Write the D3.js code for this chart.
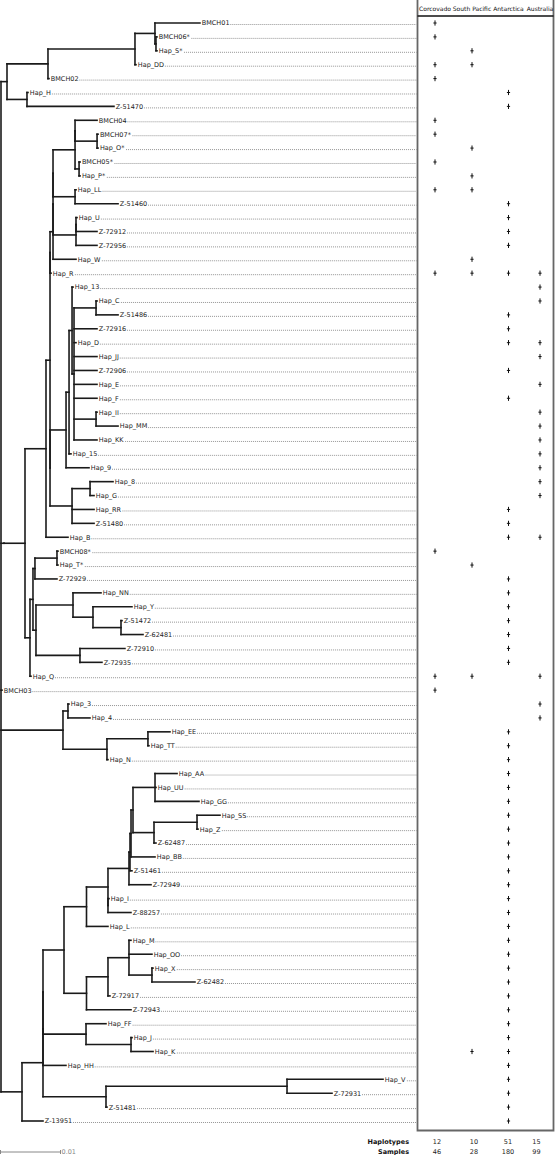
<!DOCTYPE html>
<html><head><meta charset="utf-8">
<script src="https://cdn.jsdelivr.net/npm/d3@7/dist/d3.min.js"></script>
<style>body{margin:0;background:#fff}svg{display:block}</style>
</head><body>
<svg id="chart" width="557" height="1155"></svg>
<script>
// ---- DATA ----
// Haplotype tree (Newick, branch lengths in substitutions/site)
const newick =
"(((((((BMCH01:0.0075,(BMCH06*:0.00017,Hap_S*:0.00017):0.00017):0.00333,Hap_DD:0.00017):0.0145,BMCH02:0.00017):0.00683," +
"(Hap_H:0.00017,Z-51470:0.0145):0.00333):0.001," +
"((((((((((BMCH04:0.00367,(BMCH07*:0.00017,Hap_O*:0.00017):0.00367):0,(BMCH05*:0.00017,Hap_P*:0.00017):0.00067):0.00367," +
"(Hap_LL:0.00017,Z-51460:0.00717):0.00367):0,((Hap_U:0.00017,Z-72912:0.0035):0,Z-72956:0.0035):0.00383):0,Hap_W:0.00383):0.0005,Hap_R:0.00017):0," +
"((((Hap_13:0.00017,((Hap_C:0.00017,Z-51486:0.00367):0.00367,Z-72916:0.00383,Hap_D:0.00033,Hap_JJ:0.00383,Z-72906:0.00383,Hap_E:0.00383,Hap_F:0.00383," +
"(Hap_II:0.00017,Hap_MM:0.00367):0.00367,Hap_KK:0.00383):0.00033):0.0005,Hap_15:0.00033):0.0005,Hap_9:0.00383):0.00267," +
"((Hap_8:0.00383,Hap_G:0.00067):0.003,Hap_RR:0.00367,Z-51480:0.00367):0.00367):0):0.00067,Hap_B:0.00367):0.0035," +
"((((BMCH08*:0.00017,Hap_T*:0.00017):0.00367,Z-72929:0.00367):0.00033," +
"((Hap_NN:0.00467,(Hap_Y:0.0065,(Z-51472:0.00017,Z-62481:0.00367):0.00467):0.00333):0.00617,(Z-72910:0.0075,Z-72935:0.00367):0.00733):0.0005):0.0005," +
"Hap_Q:0.00017):0.00083):0.0035):0.0005," +
"BMCH03:0.00017," +
"((Hap_3:0.00017,Hap_4:0.00367):0.00083,((Hap_EE:0.00367,Hap_TT:0.00017):0.00683,Hap_N:0.00017):0.00733):0.01033," +
"((((((((((((Hap_AA:0.00367,Hap_UU:0.00017,Hap_GG:0.00733):0.00367,((Hap_SS:0.00383,Hap_Z:0.00017):0.00717,Z-62487:0.00033):0.0035):0.00033," +
"Hap_BB:0.004):0.00017,Z-51461:0.00033):0.00017,Z-72949:0.00367):0.0035,(Hap_I:0.00017,Z-88257:0.00383):0):0.00358,Hap_L:0.00358):0.00375," +
"(((Hap_M:0.00033,Hap_OO:0.00383,(Hap_X:0.00017,Z-62482:0.00717):0.00383):0.0035,Z-72917:0.00033):0.00358,Z-72943:0.00742):0.00375):0.0035," +
"(Hap_FF:0.00333,(Hap_J:0.00017,Hap_K:0.00367):0.0075):0.00717):0,Hap_HH:0.00383):0," +
"((Hap_V:0.016,Z-72931:0.0075):0.03017,Z-51481:0.00017):0.0105):0.0035,Z-13951:0.0035):0.0035);";

const regions = ["Corcovado", "South Pacific", "Antarctica", "Australia"];
const footerRows = ["Haplotypes", "Samples"];
const haplotypeCounts = [12, 10, 51, 15];
const sampleCounts = [46, 28, 180, 99];
const scaleBarValue = 0.01;
const scaleBarLabel = "0.01";

// region indices in which each haplotype occurs (0 Corcovado, 1 South Pacific, 2 Antarctica, 3 Australia)
const presence = [
 ["BMCH01",[0]],["BMCH06*",[0]],["Hap_S*",[1]],["Hap_DD",[0,1]],["BMCH02",[0]],["Hap_H",[2]],["Z-51470",[2]],
 ["BMCH04",[0]],["BMCH07*",[0]],["Hap_O*",[1]],["BMCH05*",[0]],["Hap_P*",[1]],["Hap_LL",[0,1]],["Z-51460",[2]],
 ["Hap_U",[2]],["Z-72912",[2]],["Z-72956",[2]],["Hap_W",[1]],["Hap_R",[0,1,2,3]],["Hap_13",[3]],["Hap_C",[3]],
 ["Z-51486",[2]],["Z-72916",[2]],["Hap_D",[2,3]],["Hap_JJ",[3]],["Z-72906",[2]],["Hap_E",[3]],["Hap_F",[2]],
 ["Hap_II",[3]],["Hap_MM",[3]],["Hap_KK",[3]],["Hap_15",[3]],["Hap_9",[3]],["Hap_8",[3]],["Hap_G",[3]],
 ["Hap_RR",[2]],["Z-51480",[2]],["Hap_B",[2,3]],["BMCH08*",[0]],["Hap_T*",[1]],["Z-72929",[2]],["Hap_NN",[2]],
 ["Hap_Y",[2]],["Z-51472",[2]],["Z-62481",[2]],["Z-72910",[2]],["Z-72935",[2]],["Hap_Q",[0,1,3]],["BMCH03",[0]],
 ["Hap_3",[3]],["Hap_4",[3]],["Hap_EE",[2]],["Hap_TT",[2]],["Hap_N",[2]],["Hap_AA",[2]],["Hap_UU",[2]],
 ["Hap_GG",[2]],["Hap_SS",[2]],["Hap_Z",[2]],["Z-62487",[2]],["Hap_BB",[2]],["Z-51461",[2]],["Z-72949",[2]],
 ["Hap_I",[2]],["Z-88257",[2]],["Hap_L",[2]],["Hap_M",[2]],["Hap_OO",[2]],["Hap_X",[2]],["Z-62482",[2]],
 ["Z-72917",[2]],["Z-72943",[2]],["Hap_FF",[2]],["Hap_J",[2]],["Hap_K",[1,2]],["Hap_HH",[2]],["Hap_V",[2]],
 ["Z-72931",[2]],["Z-51481",[2]],["Z-13951",[2]]
];

// ---- PARSE ----
function parseNewick(s) {
  const ancestors = []; let tree = {};
  const tokens = s.split(/\s*(;|\(|\)|,|:)\s*/);
  for (let i = 0; i < tokens.length; i++) {
    const t = tokens[i];
    if (t === "(") { const sub = {}; tree.children = [sub]; ancestors.push(tree); tree = sub; }
    else if (t === ",") { const sub = {}; ancestors[ancestors.length - 1].children.push(sub); tree = sub; }
    else if (t === ")") { tree = ancestors.pop(); }
    else if (t === ":" || t === ";" || t === "") { }
    else {
      const p = tokens[i - 1];
      if (p === ":") tree.length = parseFloat(t); else tree.name = t;
    }
  }
  return tree;
}

const svg = d3.select("#chart");
const font = "DejaVu Sans, Verdana, sans-serif";

const root = d3.hierarchy(parseNewick(newick), d => d.children);
root.eachBefore(d => { d.dist = d.parent ? d.parent.dist + (d.data.length || 0) : 0; });
const leaves = root.leaves();

const x = d3.scaleLinear().domain([0, 0.01]).range([1, 61]);
const y = d3.scaleLinear().domain([0, leaves.length - 1]).range([23, 1121]);
leaves.forEach((d, i) => d.yPos = y(i));
root.eachAfter(d => {
  if (d.children) d.yPos = (d.children[0].yPos + d.children[d.children.length - 1].yPos) / 2;
});

const panelLeft = 417.5, panelRight = 553.5, panelBottom = 1130.5, headerLine = 16;
const col = d3.scaleOrdinal().domain(regions).range([435, 472, 508.5, 540]);
const footCol = d3.scaleOrdinal().domain(regions).range([437, 474, 508, 536.5]);

// ---- TREE ----
const g = svg.append("g");
const nodes = root.descendants();
g.selectAll("path.h").data(nodes.filter(d => d.parent)).join("path")
  .attr("d", d => `M${x(d.parent.dist)},${d.yPos}H${x(d.dist)}`)
  .attr("stroke", "#1a1a1a").attr("stroke-width", 1.6).attr("fill", "none").attr("stroke-linecap", "square");
g.selectAll("path.v").data(nodes.filter(d => d.children)).join("path")
  .attr("d", d => `M${x(d.dist)},${d.children[0].yPos}V${d.children[d.children.length - 1].yPos}`)
  .attr("stroke", "#1a1a1a").attr("stroke-width", 1.6).attr("fill", "none").attr("stroke-linecap", "square");

// labels + dotted leaders
const labels = g.selectAll("text.tip").data(leaves).join("text")
  .attr("x", d => x(d.dist) + 1.8).attr("y", d => d.yPos + 2.4)
  .attr("font-family", font).attr("font-size", 6.5).attr("fill", "#222")
  .text(d => d.data.name);
labels.each(function (d) { d.textEnd = this.getBBox().x + this.getBBox().width; });
g.selectAll("line.dot").data(leaves).join("line")
  .attr("x1", d => d.textEnd + 0.8).attr("x2", panelLeft - 1)
  .attr("y1", d => d.yPos + 1.5).attr("y2", d => d.yPos + 1.5)
  .attr("stroke", "#8a8a8a").attr("stroke-width", 0.9).attr("stroke-dasharray", "1,1");

// ---- PANEL ----
svg.append("path")
  .attr("d", `M${panelLeft},0V${panelBottom}H${panelRight}V0`)
  .attr("fill", "none").attr("stroke", "#666").attr("stroke-width", 1.8);
svg.append("line").attr("x1", panelLeft).attr("x2", panelRight).attr("y1", headerLine).attr("y2", headerLine)
  .attr("stroke", "#111").attr("stroke-width", 1.4);
svg.selectAll("text.head").data(regions).join("text")
  .attr("x", d => col(d)).attr("y", 11).attr("text-anchor", "middle")
  .attr("font-family", font).attr("font-size", 6).attr("fill", "#111").text(d => d);

// presence crosses
const presMap = new Map(presence);
const marks = [];
leaves.forEach(l => (presMap.get(l.data.name) || []).forEach(r => marks.push({ y: l.yPos, r: regions[r] })));
svg.selectAll("path.mark").data(marks).join("path")
  .attr("d", d => { const cx = col(d.r), cy = d.y; return `M${cx - 1.6},${cy}H${cx + 1.6}M${cx},${cy - 2.6}V${cy + 2.6}`; })
  .attr("stroke", "#111").attr("stroke-width", 1);

// ---- FOOTER ----
const footY = d3.scalePoint().domain(footerRows).range([1143.5, 1154]);
svg.selectAll("text.fl").data(footerRows).join("text")
  .attr("x", 409).attr("y", d => footY(d)).attr("text-anchor", "end")
  .attr("font-family", font).attr("font-size", 6.5).attr("font-weight", "bold").attr("fill", "#111").text(d => d);
const footVals = [haplotypeCounts, sampleCounts];
footerRows.forEach((row, ri) => {
  svg.selectAll("text.fv" + ri).data(footVals[ri]).join("text")
    .attr("x", (d, i) => footCol(regions[i])).attr("y", footY(row)).attr("text-anchor", "middle")
    .attr("font-family", font).attr("font-size", 6.5).attr("fill", "#222").text(d => d);
});

// scale bar
const sb = d3.scaleLinear().domain([0, scaleBarValue]).range([0.5, 60.5]);
const sbY = 1152;
svg.append("path")
  .attr("d", `M${sb(0)},${sbY - 2}V${sbY + 2}M${sb(0)},${sbY}H${sb(scaleBarValue)}M${sb(scaleBarValue)},${sbY - 2}V${sbY + 2}`)
  .attr("stroke", "#888").attr("stroke-width", 1).attr("fill", "none");
svg.append("text").attr("x", sb(scaleBarValue) + 1).attr("y", sbY + 2.3)
  .attr("font-family", font).attr("font-size", 6.5).attr("fill", "#888").text(scaleBarLabel);
</script>
</body></html>
